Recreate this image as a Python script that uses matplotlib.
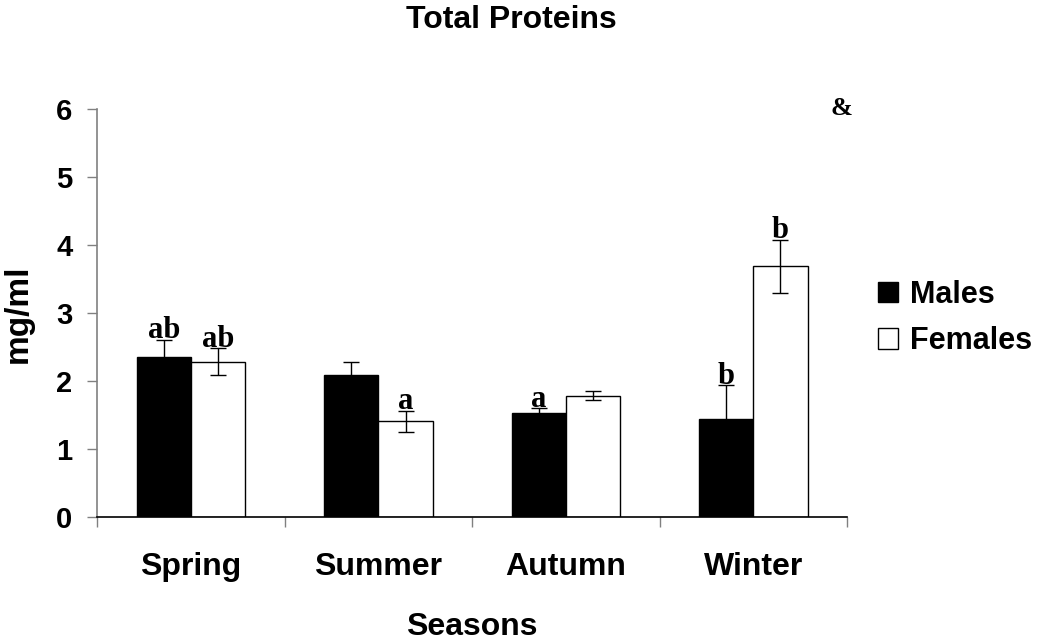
import matplotlib
matplotlib.use("Agg")
import matplotlib.pyplot as plt
import numpy as np
from matplotlib.patches import Patch

seasons = ["Spring", "Summer", "Autumn", "Winter"]
males = [2.35, 2.09, 1.53, 1.44]
males_err = [0.26, 0.20, 0.07, 0.50]
females = [2.29, 1.41, 1.79, 3.69]
females_err = [0.20, 0.16, 0.06, 0.39]
males_letters = ["ab", "", "a", "b"]
females_letters = ["ab", "a", "", "b"]
yticks = [0, 1, 2, 3, 4, 5, 6]

W, H = 1037, 641
fig = plt.figure(figsize=(W / 100, H / 100), dpi=100)
ax = fig.add_axes([97.3 / W, 1 - 517.3 / H, (847 - 97.3) / W, (517.3 - 109.3) / H])

sans = "Liberation Sans"
serif = "Liberation Serif"

x = np.arange(len(seasons)) + 0.5
bw = 0.29
ax.bar(x - bw / 2, males, bw, color="black", edgecolor="black", linewidth=1, zorder=2)
ax.bar(x + bw / 2, females, bw, color="white", edgecolor="black", linewidth=1, zorder=2)
ax.errorbar(x - bw / 2, males, yerr=males_err, fmt="none", ecolor="black",
            elinewidth=1, capsize=5.5, capthick=1, zorder=3)
ax.errorbar(x + bw / 2, females, yerr=females_err, fmt="none", ecolor="black",
            elinewidth=1, capsize=5.5, capthick=1, zorder=3)

for xi, v, e, t in zip(x - bw / 2, males, males_err, males_letters):
    if t:
        ax.text(xi, v + e + 0.02, t, ha="center", va="baseline", fontsize=22,
                fontweight="bold", family=serif, zorder=4)
for xi, v, e, t in zip(x + bw / 2, females, females_err, females_letters):
    if t:
        ax.text(xi, v + e + 0.02, t, ha="center", va="baseline", fontsize=22,
                fontweight="bold", family=serif, zorder=4)

ax.set_xlim(0, 4)
ax.set_ylim(0, 6)
ax.set_yticks(yticks)
ax.set_yticklabels([str(t) for t in yticks], fontsize=21, fontweight="bold", family=sans)
ax.set_xticks(x)
ax.set_xticklabels(seasons, fontsize=23, fontweight="bold", family=sans)
ax.set_xticks(np.arange(0, 5), minor=True)
ax.tick_params(axis="x", which="major", length=0, pad=25)
ax.tick_params(axis="x", which="minor", length=7, color="#808080", direction="out", width=1)
ax.tick_params(axis="y", length=7, color="#808080", direction="out", width=1, pad=11)

for s in ["top", "right"]:
    ax.spines[s].set_visible(False)
ax.spines["left"].set_color("#808080")
ax.spines["left"].set_linewidth(1.2)
ax.spines["bottom"].set_color("black")
ax.spines["bottom"].set_linewidth(1.2)

fig.text(511 / W, 1 - 28.5 / H, "Total Proteins", ha="center", va="baseline",
         fontsize=23, fontweight="bold", family=sans)
fig.text(472 / W, 1 - 635 / H, "Seasons", ha="center", va="baseline",
         fontsize=23, fontweight="bold", family=sans)
fig.text(18 / W, 1 - 314 / H, "mg/ml", ha="center", va="center", rotation=90,
         fontsize=24, fontweight="bold", family=sans)
fig.text(841 / W, 1 - 115 / H, "&", ha="center", va="baseline",
         fontsize=19, fontweight="bold", family=serif)

handles = [Patch(facecolor="black", edgecolor="black", linewidth=1),
           Patch(facecolor="white", edgecolor="black", linewidth=1)]
fig.legend(handles, ["Males", "Females"], loc="center left",
           bbox_to_anchor=(878 / W, 1 - 318 / H), frameon=False,
           prop={"family": sans, "weight": "bold", "size": 22},
           handlelength=0.65, handleheight=0.65, handletextpad=0.4,
           labelspacing=0.55, borderpad=0, borderaxespad=0)

fig.savefig("out.png", dpi=100)
